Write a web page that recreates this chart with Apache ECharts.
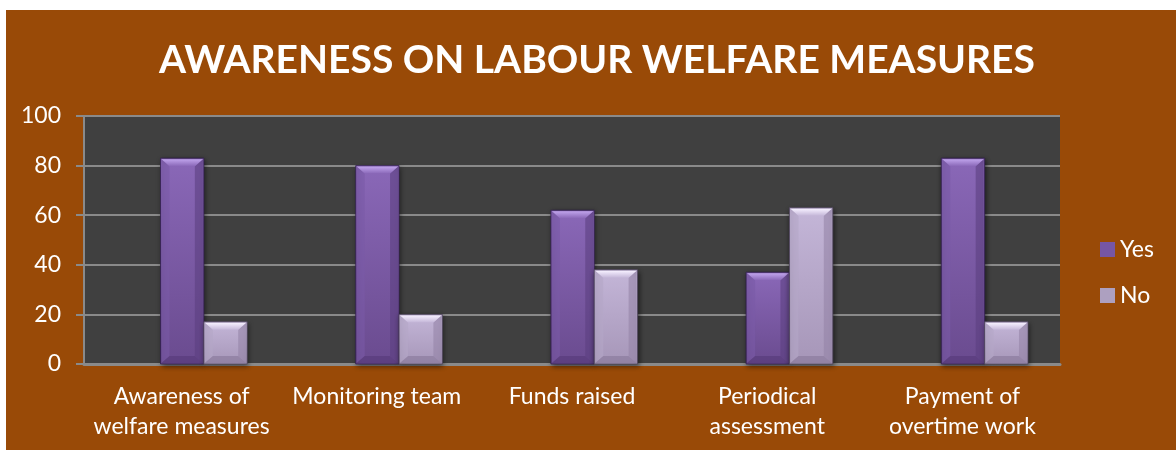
<!DOCTYPE html>
<html>
<head>
<meta charset="utf-8">
<script src="https://cdn.jsdelivr.net/npm/echarts@6/dist/echarts.min.js"></script>
<style>
  html, body { margin: 0; padding: 0; background: #ffffff; }
  #chart { width: 1176px; height: 451px; }
</style>
</head>
<body>
<div id="chart"></div>
<script>
// Survey responses (%) per welfare topic
const categories = [
  'Awareness of\nwelfare measures',
  'Monitoring team',
  'Funds raised',
  'Periodical\nassessment',
  'Payment of\novertime work'
];
const yesValues = [83, 80, 62, 37, 83];
const noValues = [17, 20, 38, 63, 17];
const seriesNames = ['Yes', 'No'];
const yTicks = { min: 0, max: 100, interval: 20 };

const FONT = 'Lato, "Open Sans", sans-serif';

// Bevelled column palettes
const palettes = [
  { main: ['#8a68b8', '#6a4b8f'], top: '#c0a4ec', bottom: '#583c7c', left: '#7a5aa6', right: '#5c4080', stroke: 'rgba(50,30,80,0.8)', legend: '#7656a4' },
  { main: ['#c4b6d8', '#a696b8'], top: '#f6f0ff', bottom: '#8c7c9e', left: '#b4a6c6', right: '#9484a6', stroke: 'rgba(80,70,95,0.8)', legend: '#ada0c0' }
];

function bevelBar(seriesIdx) {
  return function (params, api) {
    const cat = api.value(0);
    const val = api.value(1);
    const base = api.coord([cat, 0]);
    const top = api.coord([cat, val]);
    const catW = api.size([1, 0])[0];
    const bw = catW * 0.222;
    const shift = catW * 0.114;
    const pairCenter = base[0] + shift;
    const x0 = seriesIdx === 0 ? pairCenter - bw : pairCenter;
    const x1 = x0 + bw;
    const y0 = top[1];
    const y1 = base[1];
    const h = y1 - y0;
    const b = Math.min(8, h / 2);
    const p = palettes[seriesIdx];
    return {
      type: 'group',
      children: [
        {
          type: 'rect',
          shape: { x: x0, y: y0, width: bw, height: h },
          style: {
            fill: new echarts.graphic.LinearGradient(0, 0, 0, 1, [
              { offset: 0, color: p.main[0] },
              { offset: 1, color: p.main[1] }
            ]),
            stroke: p.stroke,
            lineWidth: 1,
            shadowBlur: 5,
            shadowColor: 'rgba(0,0,0,0.55)',
            shadowOffsetX: 1,
            shadowOffsetY: 2
          }
        },
        {
          type: 'polygon',
          shape: { points: [[x0 + 1, y0 + 1], [x0 + 1 + b, y0 + b], [x0 + 1 + b, y1 - b], [x0 + 1, y1 - 1]] },
          style: { fill: p.left, opacity: 0.6 }
        },
        {
          type: 'polygon',
          shape: { points: [[x1 - 1, y0 + 1], [x1 - 1 - b, y0 + b], [x1 - 1 - b, y1 - b], [x1 - 1, y1 - 1]] },
          style: { fill: p.right, opacity: 0.6 }
        },
        {
          type: 'polygon',
          shape: { points: [[x0 + 1, y1 - 1], [x1 - 1, y1 - 1], [x1 - 1 - b, y1 - b], [x0 + 1 + b, y1 - b]] },
          style: { fill: p.bottom, opacity: 0.7 }
        },
        {
          type: 'polygon',
          shape: { points: [[x0 + 1, y0 + 1], [x1 - 1, y0 + 1], [x1 - 1 - b, y0 + b], [x0 + 1 + b, y0 + b]] },
          style: {
            fill: new echarts.graphic.LinearGradient(0, 0, 0, 1, [
              { offset: 0, color: p.top },
              { offset: 1, color: p.main[0] }
            ])
          }
        }
      ]
    };
  };
}

const chart = echarts.init(document.getElementById('chart'), null, { renderer: 'canvas' });

chart.setOption({
  backgroundColor: '#ffffff',
  animation: false,
  graphic: [
    {
      type: 'rect',
      z: -10,
      silent: true,
      shape: { x: 6, y: 10, width: 1170, height: 440 },
      style: { fill: '#994a07' }
    }
  ],
  title: {
    text: 'AWARENESS ON LABOUR WELFARE MEASURES',
    left: 592,
    textAlign: 'center',
    top: 36,
    textStyle: { color: '#ffffff', fontFamily: FONT, fontWeight: 'bold', fontSize: 39 }
  },
  legend: {
    orient: 'vertical',
    left: 1100,
    top: 238,
    padding: 0,
    icon: 'rect',
    itemWidth: 15,
    itemHeight: 15,
    itemGap: 23,
    data: seriesNames,
    textStyle: { color: '#ffffff', fontFamily: FONT, fontSize: 23 }
  },
  grid: {
    left: 84,
    right: 116,
    top: 116,
    bottom: 87,
    show: true,
    backgroundColor: '#404040',
    borderWidth: 0
  },
  xAxis: {
    type: 'category',
    data: categories,
    axisTick: { show: false },
    axisLine: { lineStyle: { color: '#8a8a8a', width: 3 } },
    axisLabel: {
      color: '#ffffff',
      fontFamily: FONT,
      fontSize: 23,
      lineHeight: 30,
      margin: 18,
      interval: 0
    }
  },
  yAxis: {
    type: 'value',
    min: yTicks.min,
    max: yTicks.max,
    interval: yTicks.interval,
    axisLine: { show: true, lineStyle: { color: '#8a8a8a', width: 2 } },
    axisTick: { show: true, length: 8, lineStyle: { color: '#8a8a8a', width: 2 } },
    splitLine: { lineStyle: { color: '#8a8a8a', width: 2 } },
    axisLabel: { color: '#ffffff', fontFamily: FONT, fontSize: 23, margin: 23 }
  },
  series: [
    {
      name: seriesNames[0],
      type: 'custom',
      renderItem: bevelBar(0),
      encode: { x: 0, y: 1 },
      itemStyle: { color: palettes[0].legend },
      data: yesValues.map((v, i) => [i, v])
    },
    {
      name: seriesNames[1],
      type: 'custom',
      renderItem: bevelBar(1),
      encode: { x: 0, y: 1 },
      itemStyle: { color: palettes[1].legend },
      data: noValues.map((v, i) => [i, v])
    }
  ]
});
</script>
</body>
</html>
